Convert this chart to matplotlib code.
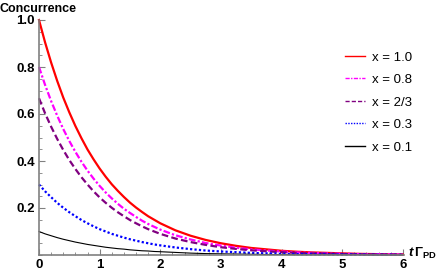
import matplotlib
matplotlib.use("Agg")
import matplotlib.pyplot as plt
from matplotlib.ticker import MultipleLocator, FixedLocator

plt.rcParams['font.family'] = ['Liberation Sans', 'DejaVu Sans']
plt.rcParams['mathtext.fontset'] = 'custom'
plt.rcParams['mathtext.rm'] = 'Liberation Sans'
plt.rcParams['mathtext.bf'] = 'Liberation Sans:bold'
plt.rcParams['mathtext.it'] = 'Liberation Sans:italic'
plt.rcParams['mathtext.bfit'] = 'Liberation Sans:bold:italic'

t = [0, 0.1, 0.2, 0.3, 0.4, 0.5, 0.6, 0.7, 0.8, 0.9, 1.0,
     1.1, 1.2, 1.3, 1.4, 1.5, 1.6, 1.7, 1.8, 1.9, 2.0,
     2.25, 2.5, 2.75, 3, 3.25, 3.5, 3.75, 4, 4.25, 4.5, 4.75, 5,
     5.25, 5.5, 5.75, 6]

c_10 = [1.000, 0.905, 0.819, 0.741, 0.670, 0.607, 0.549, 0.497, 0.449, 0.407, 0.368,
        0.333, 0.301, 0.273, 0.247, 0.223, 0.202, 0.183, 0.165, 0.150, 0.135,
        0.105, 0.082, 0.064, 0.050, 0.039, 0.030, 0.024, 0.018, 0.014, 0.011,
        0.009, 0.007, 0.005, 0.004, 0.003, 0.002]
c_08 = [0.800, 0.724, 0.655, 0.593, 0.536, 0.485, 0.439, 0.397, 0.359, 0.325, 0.294,
        0.266, 0.241, 0.218, 0.197, 0.179, 0.162, 0.146, 0.132, 0.120, 0.108,
        0.084, 0.066, 0.051, 0.040, 0.031, 0.024, 0.019, 0.015, 0.011, 0.009,
        0.007, 0.005, 0.004, 0.003, 0.003, 0.002]
c_23 = [0.667, 0.603, 0.546, 0.494, 0.447, 0.404, 0.366, 0.331, 0.300, 0.271, 0.245,
        0.222, 0.201, 0.182, 0.165, 0.149, 0.135, 0.122, 0.110, 0.100, 0.090,
        0.070, 0.055, 0.043, 0.033, 0.026, 0.020, 0.016, 0.012, 0.009, 0.007,
        0.006, 0.004, 0.003, 0.003, 0.002, 0.002]
c_03 = [0.300, 0.271, 0.246, 0.222, 0.201, 0.182, 0.165, 0.149, 0.135, 0.122, 0.110,
        0.100, 0.090, 0.082, 0.074, 0.067, 0.061, 0.055, 0.050, 0.045, 0.041,
        0.032, 0.025, 0.019, 0.015, 0.012, 0.009, 0.007, 0.005, 0.004, 0.003,
        0.003, 0.002, 0.002, 0.001, 0.001, 0.001]
c_01 = [0.100, 0.090, 0.082, 0.074, 0.067, 0.061, 0.055, 0.050, 0.045, 0.041, 0.037,
        0.033, 0.030, 0.027, 0.025, 0.022, 0.020, 0.018, 0.017, 0.015, 0.014,
        0.011, 0.008, 0.006, 0.005, 0.004, 0.003, 0.002, 0.002, 0.001, 0.001,
        0.001, 0.001, 0.001, 0.000, 0.000, 0.000]

labels = ["x = 1.0", "x = 0.8", "x = 2/3", "x = 0.3", "x = 0.1"]
xticks = [0, 1, 2, 3, 4, 5, 6]
yticks = [0.2, 0.4, 0.6, 0.8, 1.0]
yticklabels = ["0.2", "0.4", "0.6", "0.8", "1.0"]

fig = plt.figure(figsize=(4.47, 2.73), dpi=100)
W, H = 447, 273
ax = fig.add_axes([39 / W, (H - 255) / H, (404 - 39) / W, (255 - 20) / H])

series = [c_10, c_08, c_23, c_03, c_01]
styles = [dict(color='#FF0000', lw=1.6, ls='-'),
          dict(color='#FF00FF', lw=1.6, ls=(0, (3, 1, 1, 1))),
          dict(color='#800080', lw=1.6, ls=(0, (3, 1.5))),
          dict(color='#0000FF', lw=1.6, ls=(0, (1, 1))),
          dict(color='#000000', lw=0.8, ls='-')]
for y, st, lab in zip(series, styles, labels):
    ax.plot(t, y, label=lab, clip_on=False, **st)

ax.set_xlim(0, 6.02)
ax.set_ylim(0, 1.0)
for s in ['top', 'right']:
    ax.spines[s].set_visible(False)
for s in ['left', 'bottom']:
    ax.spines[s].set_color('#808080')
    ax.spines[s].set_linewidth(1.2)

ax.xaxis.set_major_locator(FixedLocator(xticks))
ax.xaxis.set_minor_locator(MultipleLocator(0.2))
ax.yaxis.set_major_locator(FixedLocator(yticks))
ax.yaxis.set_minor_locator(MultipleLocator(0.05))
ax.set_yticklabels(yticklabels)
ax.tick_params(which='major', direction='in', length=4, width=0.8, color='#808080',
               labelsize=9.5, pad=3)
ax.tick_params(which='minor', direction='in', length=2, width=0.6, color='#808080')
for lbl in ax.get_xticklabels() + ax.get_yticklabels():
    lbl.set_fontweight('bold')

fig.text(0 / W, 1 - 9 / H, "Concurrence", fontsize=9, fontweight='bold',
         ha='left', va='center')
fig.text(408 / W, 1 - 253 / H, r"$\mathbfit{t}\,\mathbf{Γ}_{\mathbf{PD}}$",
         fontsize=9.5, ha='left', va='center')

leg = ax.legend(loc='upper left', bbox_to_anchor=((340 - 39) / (404 - 39), (255 - 46) / 235),
                frameon=False, fontsize=9.5, handlelength=1.5, handletextpad=0.5,
                labelspacing=0.78, borderaxespad=0, handleheight=0.7)
for line in leg.get_lines():
    line.set_linewidth(1.0)

fig.savefig("out.png", dpi=100)
